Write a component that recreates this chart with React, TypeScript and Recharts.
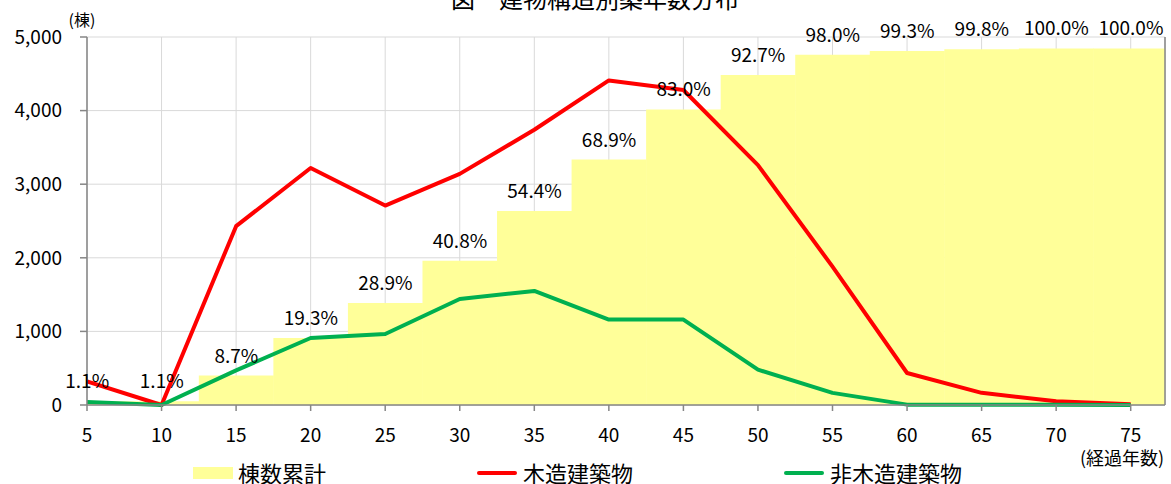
import { ComposedChart, Bar, Line, XAxis, YAxis, CartesianGrid, LabelList } from 'recharts';

const YEARS = [5, 10, 15, 20, 25, 30, 35, 40, 45, 50, 55, 60, 65, 70, 75];
const CUMULATIVE = [50, 50, 400, 910, 1385, 1960, 2635, 3335, 4015, 4485, 4760, 4810, 4835, 4845, 4845];
const CUMULATIVE_PCT = ['1.1%', '1.1%', '8.7%', '19.3%', '28.9%', '40.8%', '54.4%', '68.9%', '83.0%', '92.7%', '98.0%', '99.3%', '99.8%', '100.0%', '100.0%'];
const WOODEN = [320, 0, 2430, 3220, 2710, 3140, 3740, 4410, 4280, 3260, 1880, 435, 165, 50, 10];
const NON_WOODEN = [40, 0, 470, 910, 965, 1440, 1550, 1160, 1160, 480, 165, 5, 3, 2, 1];
const Y_TICKS = [0, 1000, 2000, 3000, 4000, 5000];

const TITLE = '図　建物構造別築年数分布';
const Y_UNIT = '(棟)';
const X_UNIT = '(経過年数)';

const SERIES = [
  { key: 'cum', name: '棟数累計', color: '#FFFF99' },
  { key: 'wood', name: '木造建築物', color: '#FF0000' },
  { key: 'nonwood', name: '非木造建築物', color: '#00B050' },
];

const FONT = '"Noto Sans CJK JP", "Noto Sans", sans-serif';
const AXIS_GREY = '#868686';

const data = YEARS.map((year, i) => ({
  year,
  cum: CUMULATIVE[i],
  pct: CUMULATIVE_PCT[i],
  wood: WOODEN[i],
  nonwood: NON_WOODEN[i],
}));

const fmt = (v: number) => v.toLocaleString('en-US');

const LEGEND_X = [193, 477, 784];

function ChartLegend() {
  return (
    <>
      {SERIES.map((s, i) => (
        <div
          key={s.key}
          style={{
            position: 'absolute',
            left: LEGEND_X[i],
            top: 461,
            height: 23,
            lineHeight: '23px',
            display: 'flex',
            alignItems: 'center',
            fontSize: 22,
            color: '#000',
            whiteSpace: 'nowrap',
          }}
        >
          {i === 0 ? (
            <span style={{ display: 'inline-block', width: 40, height: 12, background: s.color, marginRight: 5 }} />
          ) : (
            <span style={{ display: 'inline-block', width: 40, height: 4, borderRadius: 2, background: s.color, marginRight: 6 }} />
          )}
          <span>{s.name}</span>
        </div>
      ))}
    </>
  );
}

export default function App() {
  return (
    <div style={{ position: 'absolute', left: 0, top: 0, width: 1171, height: 484, fontFamily: FONT, overflow: 'hidden', background: '#fff' }}>
      <ComposedChart
        width={1171}
        height={484}
        data={data}
        margin={{ top: 37, right: 1, bottom: 39, left: 0 }}
        barCategoryGap={0}
        barGap={0}
      >
        <CartesianGrid stroke="#D9D9D9" strokeWidth={1} />
        <XAxis
          dataKey="year"
          type="number"
          domain={[5, 77.3]}
          allowDataOverflow
          ticks={YEARS}
          interval={0}
          height={40}
          tickSize={6}
          tickMargin={18}
          stroke={AXIS_GREY}
          strokeWidth={1.5}
          tick={{ fill: '#000', fontSize: 19, fontFamily: FONT }}
        />
        <YAxis
          domain={[0, 5000]}
          ticks={Y_TICKS}
          width={87}
          tickSize={7}
          tickMargin={18}
          tickFormatter={fmt}
          stroke={AXIS_GREY}
          strokeWidth={1.5}
          tick={{ fill: '#000', fontSize: 19, fontFamily: FONT }}
        />
        <YAxis
          yAxisId="right"
          orientation="right"
          domain={[0, 5000]}
          width={5}
          tick={false}
          tickLine={false}
          stroke={AXIS_GREY}
          strokeWidth={1.5}
        />
        <Bar dataKey="cum" name={SERIES[0].name} fill={SERIES[0].color} isAnimationActive={false}>
          <LabelList dataKey="pct" position="top" offset={13} fill="#000" fontSize={19} fontFamily={FONT} />
        </Bar>
        <Line
          dataKey="wood"
          name={SERIES[1].name}
          stroke={SERIES[1].color}
          strokeWidth={4}
          strokeLinejoin="round"
          dot={false}
          activeDot={false}
          isAnimationActive={false}
        />
        <Line
          dataKey="nonwood"
          name={SERIES[2].name}
          stroke={SERIES[2].color}
          strokeWidth={4}
          strokeLinejoin="round"
          dot={false}
          activeDot={false}
          isAnimationActive={false}
        />
      </ComposedChart>
      <svg width={1171} height={484} style={{ position: 'absolute', left: 0, top: 0, pointerEvents: 'none' }}>
        <text x={595} y={8} textAnchor="middle" fontSize={24} fontFamily={FONT} fill="#000">
          {TITLE}
        </text>
        <text x={82} y={26} textAnchor="middle" fontSize={16} fontFamily={FONT} fill="#000">
          {Y_UNIT}
        </text>
        <text x={1122} y={465} textAnchor="middle" fontSize={18} fontFamily={FONT} fill="#000">
          {X_UNIT}
        </text>
      </svg>
      <ChartLegend />
    </div>
  );
}
